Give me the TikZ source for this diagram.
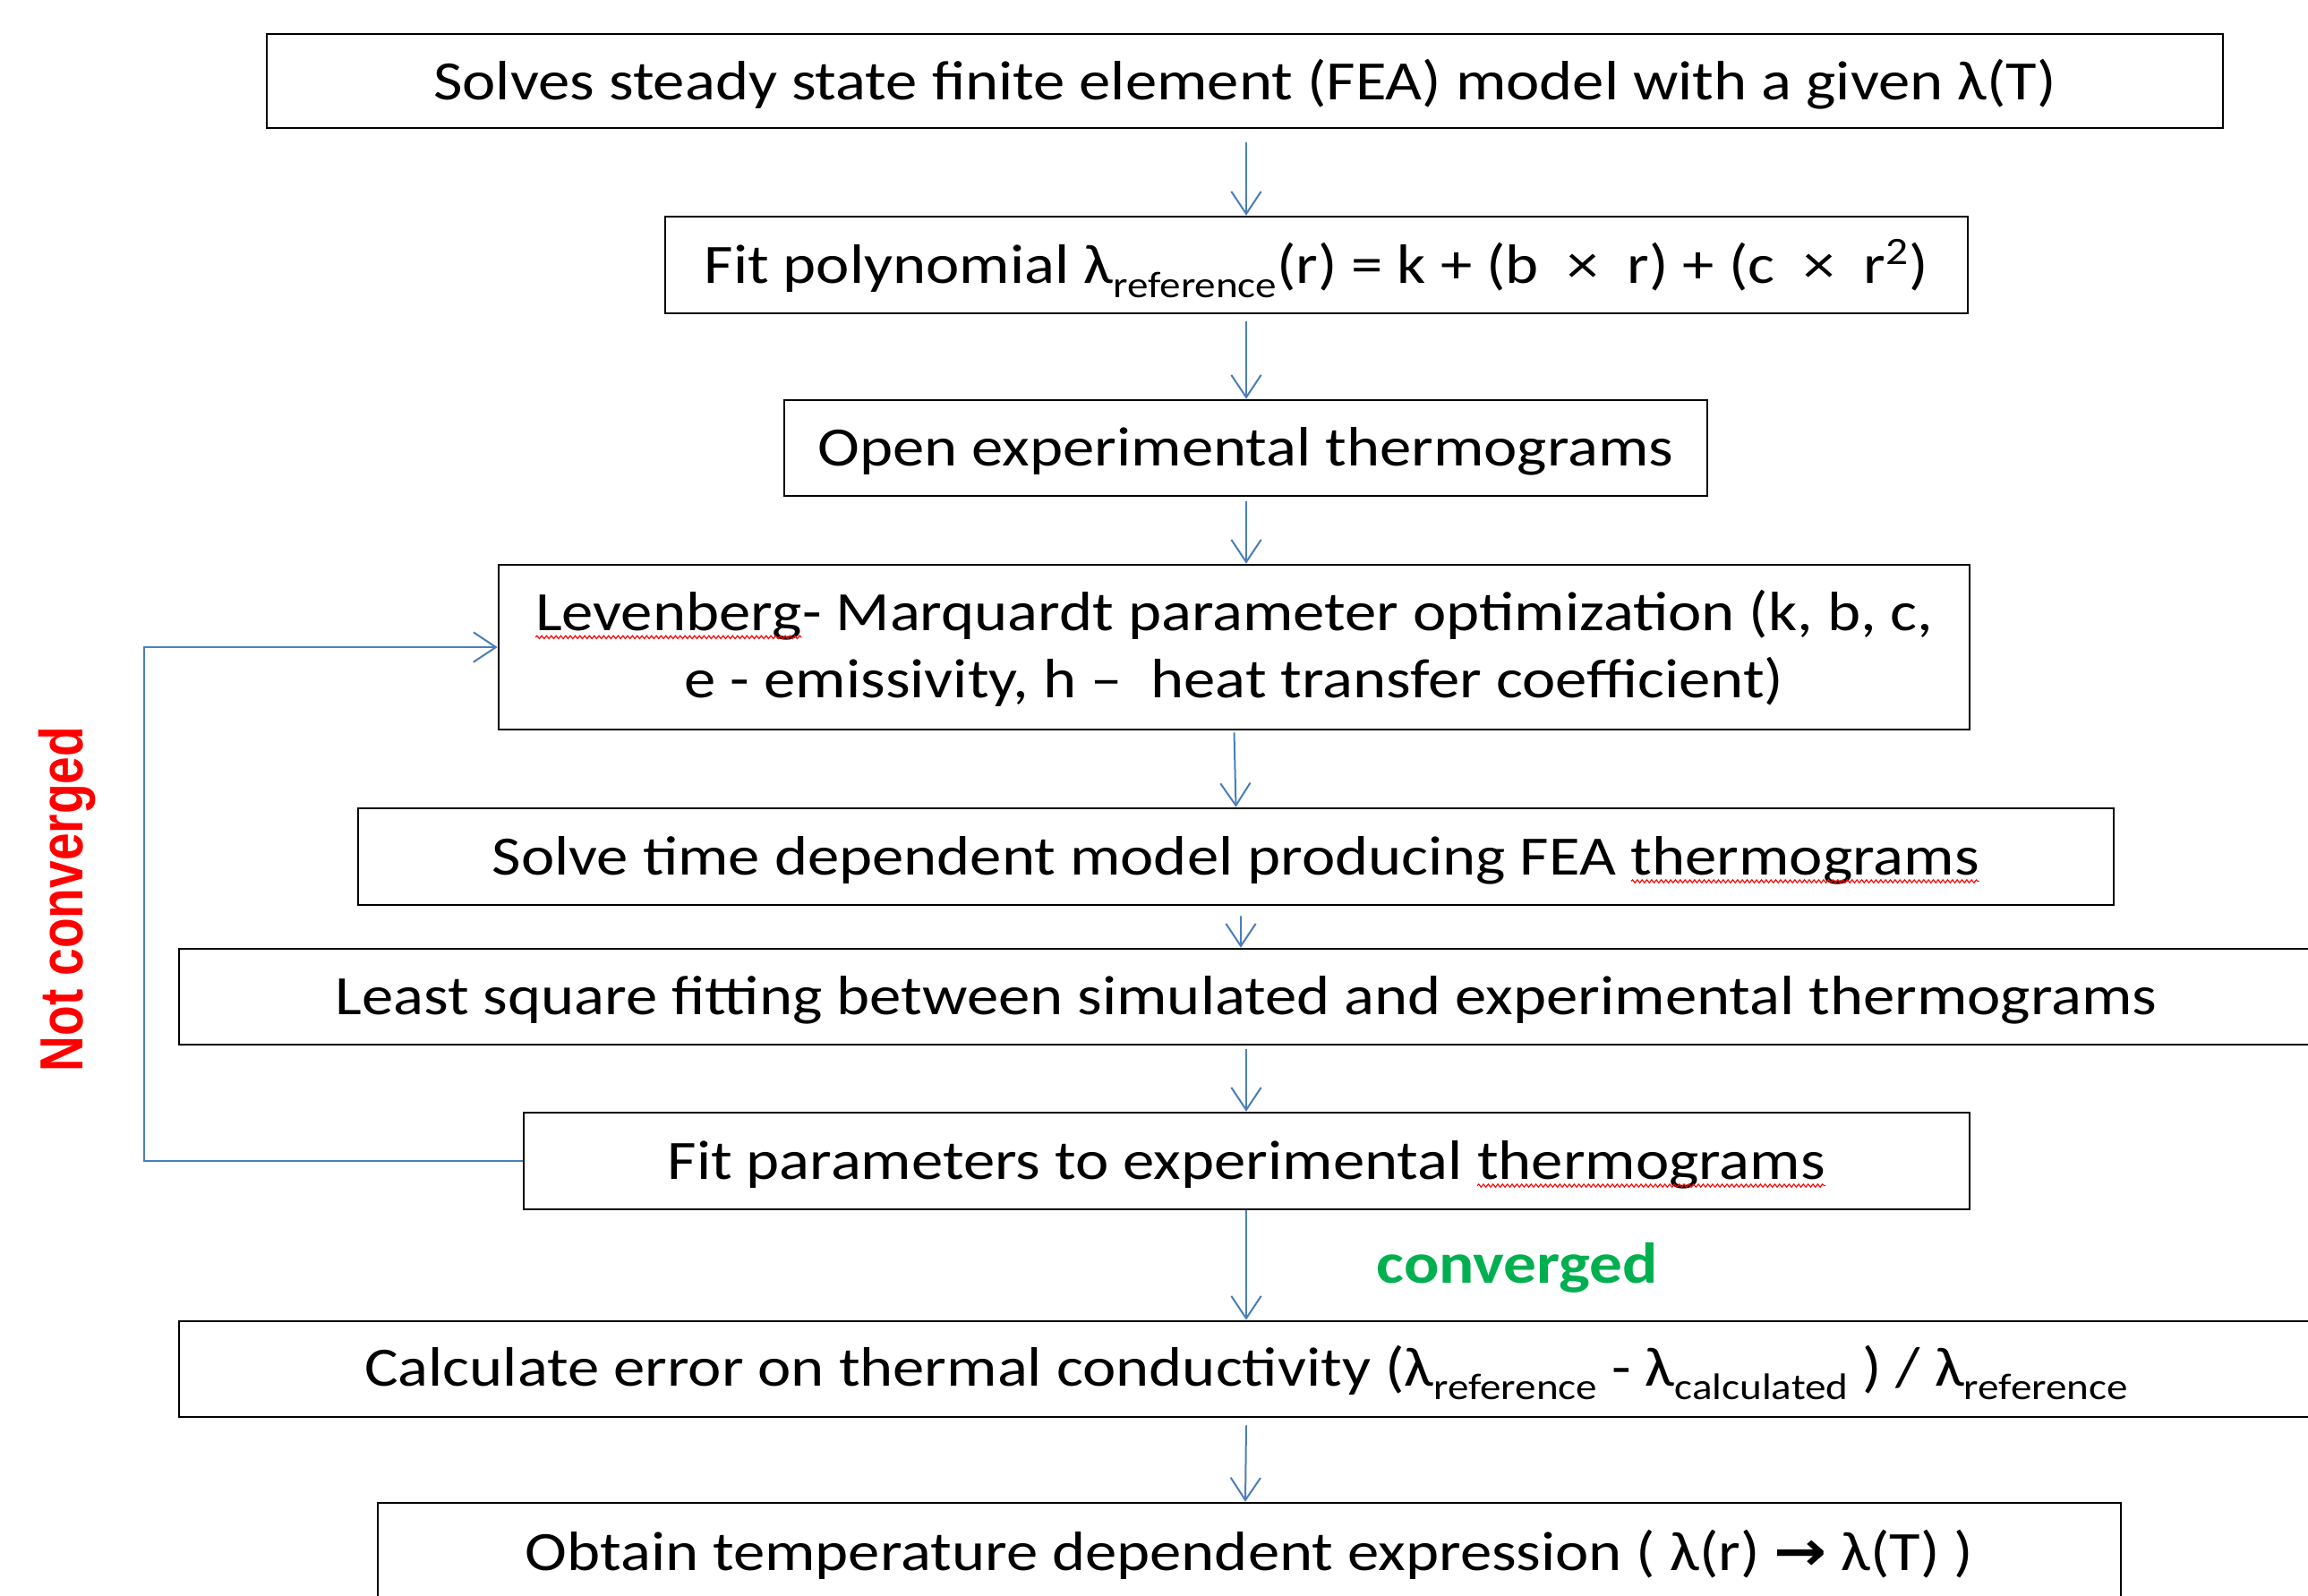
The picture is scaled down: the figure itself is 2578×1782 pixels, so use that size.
\documentclass[tikz,border=0pt]{standalone}
\usepackage{fontspec}
\setmainfont{Carlito}[FakeStretch=1.14]
\newfontfamily\ncfont{Liberation Sans}[FakeStretch=0.81]
\newfontfamily\dejavu{DejaVu Sans}[FakeStretch=1.14]
\usetikzlibrary{arrows.meta,calc,decorations.pathmorphing}
\definecolor{lineblue}{RGB}{74,126,187}
\definecolor{okgreen}{RGB}{0,176,80}
\tikzset{
  box/.style={draw=black, line width=0.8pt, inner sep=0pt, align=center,
    font=\fontsize{18.6}{22.5}\selectfont},
  arr/.style={draw=lineblue, line width=0.6pt, -{Straight Barb[length=7.5pt,width=10pt]}},
  squiggle/.style={draw=red, line width=0.35pt, decorate,
    decoration={snake, amplitude=0.5pt, segment length=1.6pt}},
  plainword/.style={draw=none, inner sep=0pt, outer sep=0pt, minimum width=0pt, minimum height=0pt}
}
\newcommand\squig[1]{\tikz[baseline=(w.base)]{\node[plainword] (w) {#1};
  \draw[squiggle] ([yshift=-2.2pt]w.base west) -- ([yshift=-2.2pt]w.base east);}}
\newcommand\sbs[1]{\raisebox{-0.25em}{\fontsize{12.4}{14}\selectfont #1}}
\newcommand\dn[1]{\raisebox{-1.2pt}[\height][\depth]{#1}}
\begin{document}
\begin{tikzpicture}[x=0.3pt,y=-0.3pt]
\clip (0,0) rectangle (2578,1782);
\fill[white] (0,0) rectangle (2578,1782);

\node[box, minimum width=2185*0.3pt, minimum height=105*0.3pt] (b1) at (1390.5,90.5)
  {\dn{Solves steady state finite element (FEA) model with a given λ(T)}};
\node[box, minimum width=1455*0.3pt, minimum height=108*0.3pt] (b2) at (1470.5,296)
  {\dn{Fit polynomial λ\sbs{reference}(r) = k + (b \ ×\ \ r) + (c \ ×\ \ r\textsuperscript{2})}};
\node[box, minimum width=1031*0.3pt, minimum height=107*0.3pt] (b3) at (1391.5,500.5)
  {\dn{Open experimental thermograms}};
\node[box, minimum width=1643*0.3pt, minimum height=184*0.3pt] (b4) at (1378.5,723)
  {\dn{\begin{tabular}{@{}c@{}}\squig{Levenberg}- Marquardt parameter optimization (k, b, c,\\ e - emissivity, h – \ heat transfer coefficient)\end{tabular}}};
\node[box, minimum width=1961*0.3pt, minimum height=108*0.3pt] (b5) at (1380.5,957)
  {\dn{Solve time dependent model producing FEA \squig{thermograms}}};
\node[box, minimum width=2384*0.3pt, minimum height=107*0.3pt] (b6) at (1392,1113.5)
  {\dn{Least square fitting between simulated and experimental thermograms}};
\node[box, minimum width=1615*0.3pt, minimum height=108*0.3pt] (b7) at (1392.5,1297)
  {\dn{Fit parameters to experimental \squig{thermograms}}};
\node[box, minimum width=2384*0.3pt, minimum height=107*0.3pt] (b8) at (1392,1529.5)
  {\dn{Calculate error on thermal conductivity (λ\sbs{reference} - λ\sbs{calculated} ) / λ\sbs{reference}}};
\node[box, minimum width=1947*0.3pt, minimum height=107*0.3pt] (b9) at (1395.5,1732.5)
  {\dn{Obtain temperature dependent expression ( λ(r) {\dejavu\bfseries →} λ(T) )}};

\coordinate (lp) at (161,0);
\coordinate (ax) at (1392,0);

\draw[arr] ($(b1.south -| ax)+(0,15)$) -- (b2.north -| ax);
\draw[arr] ($(b2.south -| ax)+(0,8)$) -- (b3.north -| ax);
\draw[arr] ($(b3.south -| ax)+(0,5)$) -- (b4.north -| ax);
\draw[arr] ($(b4.south)+(0,2)$) -- (b5.north);
\draw[arr] ($(b5.south)+(5.5,11)$) -- ($(b6.north)+(-6,0)$);
\draw[arr] ($(b6.south -| ax)+(0,4)$) -- (b7.north -| ax);
\draw[arr] (b7.south -| ax) -- (b8.north -| ax);
\draw[arr] ($(b8.south -| ax)+(0,8)$) -- ($(b9.north)+(-4.5,0)$);
\draw[arr] (b7.west) -| (lp |- b4.west) -- (b4.west);

\node[anchor=base, rotate=90, text=red, inner sep=0pt,
  font=\ncfont\bfseries\fontsize{20.4}{22}\selectfont] (nc) at (92,1004.5)
  {Not converged};
\node[anchor=base, text=okgreen, inner sep=0pt,
  font=\bfseries\fontsize{19.3}{22}\selectfont] (cv) at (1695,1433) {converged};
\end{tikzpicture}
\end{document}
